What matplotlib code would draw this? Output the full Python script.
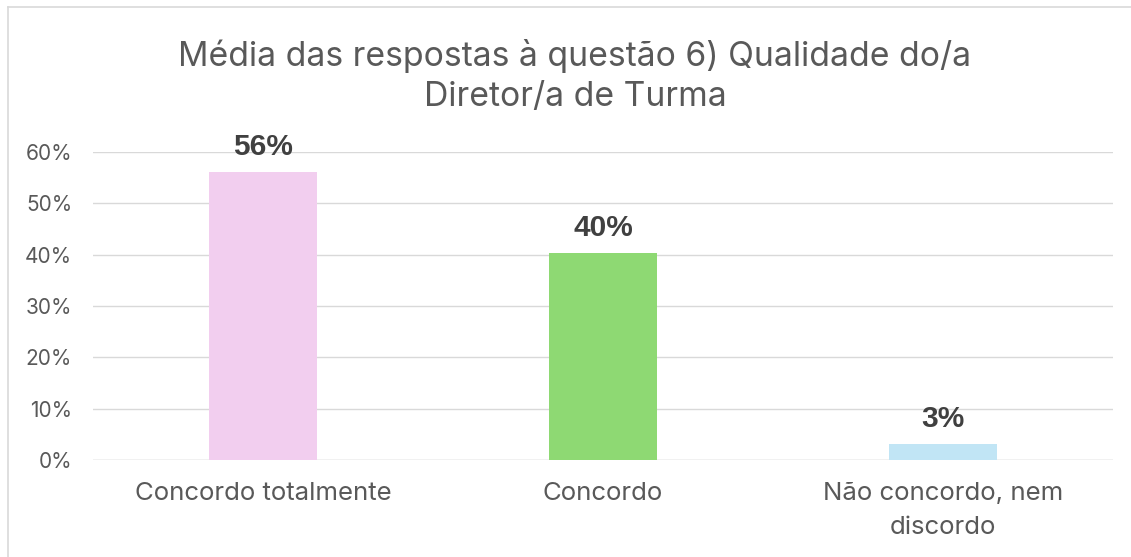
import matplotlib
matplotlib.use("Agg")
import matplotlib.pyplot as plt
from matplotlib.lines import Line2D

categories = ["Concordo totalmente", "Concordo", "Não concordo, nem\ndiscordo"]
values = [0.561, 0.403, 0.031]
labels = ["56%", "40%", "3%"]
colors = ["#F2CEEF", "#8ED973", "#C1E5F5"]
yticks = [0, 0.1, 0.2, 0.3, 0.4, 0.5, 0.6]
ytick_labels = ["0%", "10%", "20%", "30%", "40%", "50%", "60%"]
title = "Média das respostas à questão 6) Qualidade do/a\nDiretor/a de Turma"

plt.rcParams['font.family'] = ['Inter', 'DejaVu Sans']

W, H = 1131, 557
fig = plt.figure(figsize=(W/100, H/100), dpi=100)
ax = fig.add_axes([93/W, 1-460/H, (1113-93)/W, (460-152)/H])

x = list(range(len(categories)))
ax.bar(x, values, width=0.315, color=colors, zorder=3)
ax.set_xlim(-0.5, 2.5)
ax.set_ylim(0, 0.6)
ax.set_yticks(yticks)
ax.set_yticklabels(ytick_labels, fontsize=15, color="#595959")
ax.set_xticks(x)
ax.set_xticklabels(categories, fontsize=18.6, color="#595959", linespacing=1.6)
ax.tick_params(axis='y', length=0, pad=15)
ax.tick_params(axis='x', length=0, pad=16)
ax.grid(axis='y', color="#D9D9D9", linewidth=1, zorder=0)
for s in ax.spines.values():
    s.set_visible(False)
ax.axhline(0, color="#D9D9D9", linewidth=1, zorder=2)

for xi, v, lab in zip(x, values, labels):
    ax.annotate(lab, (xi, v), xytext=(0, 8), textcoords="offset points",
                ha="center", va="bottom", fontsize=21.5, fontweight="bold",
                color="#404040", annotation_clip=False, family=['Liberation Sans', 'DejaVu Sans'])

fig.text(575/W, 1-76/H, title, ha="center", va="center", fontsize=24.3,
         color="#595959", linespacing=1.3)

# chart border (left and top visible)
fig.add_artist(Line2D([8/W, 8/W], [0, 1-7/H], transform=fig.transFigure, color="#D9D9D9", linewidth=1.2))
fig.add_artist(Line2D([8/W, 1], [1-7/H, 1-7/H], transform=fig.transFigure, color="#D9D9D9", linewidth=1.2))

fig.savefig("out.png", dpi=100)
